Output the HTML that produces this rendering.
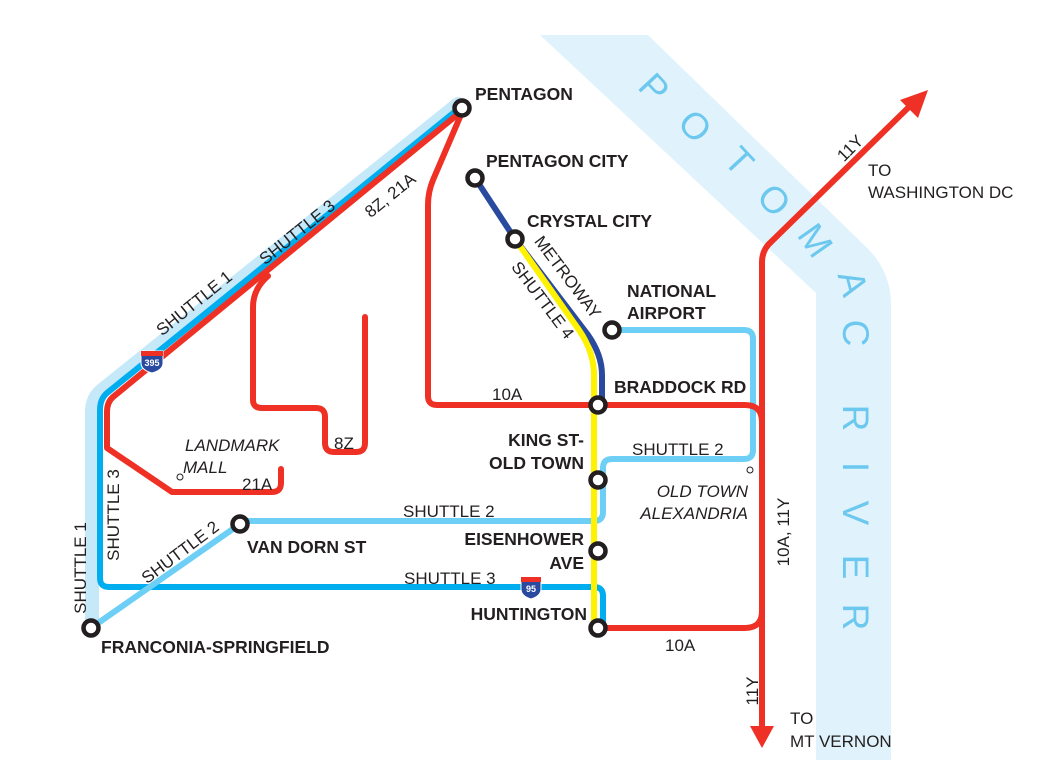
<!DOCTYPE html>
<html><head><meta charset="utf-8"><style>
html,body{margin:0;padding:0;background:#fff}
svg{display:block}
text{font-family:"Liberation Sans",Arial,sans-serif;fill:#231f20}
.b{font-weight:bold;font-size:17.5px}
.r{font-size:17px}
.i{font-style:italic;font-size:17px}
.rv{font-size:37px;fill:#6cc8ee}
</style></head><body>
<svg width="1053" height="784" viewBox="0 0 1053 784" xmlns="http://www.w3.org/2000/svg">
<path d="M540,35 L648,35 L862,243 Q891,268 891,305 L891,760 L816,760 L816,293 Z" fill="#e0f3fc"/>
<g>
<text x="652" y="90" text-anchor="middle" dominant-baseline="middle" transform="rotate(47 652 90)" class="rv">P</text>
<text x="693" y="128" text-anchor="middle" dominant-baseline="middle" transform="rotate(47 693 128)" class="rv">O</text>
<text x="737" y="163" text-anchor="middle" dominant-baseline="middle" transform="rotate(47 737 163)" class="rv">T</text>
<text x="772" y="202" text-anchor="middle" dominant-baseline="middle" transform="rotate(47 772 202)" class="rv">O</text>
<text x="813" y="242" text-anchor="middle" dominant-baseline="middle" transform="rotate(55 813 242)" class="rv">M</text>
<text x="850" y="284" text-anchor="middle" dominant-baseline="middle" transform="rotate(75 850 284)" class="rv">A</text>
<text x="853" y="333" text-anchor="middle" dominant-baseline="middle" transform="rotate(90 853 333)" class="rv">C</text>
<text x="853" y="418" text-anchor="middle" dominant-baseline="middle" transform="rotate(90 853 418)" class="rv">R</text>
<text x="853" y="467" text-anchor="middle" dominant-baseline="middle" transform="rotate(90 853 467)" class="rv">I</text>
<text x="853" y="513" text-anchor="middle" dominant-baseline="middle" transform="rotate(90 853 513)" class="rv">V</text>
<text x="853" y="567" text-anchor="middle" dominant-baseline="middle" transform="rotate(90 853 567)" class="rv">E</text>
<text x="853" y="617" text-anchor="middle" dominant-baseline="middle" transform="rotate(90 853 617)" class="rv">R</text>
</g>
<g fill="none" stroke-linecap="round" stroke-linejoin="round">
<path d="M458,104 L102,390 Q92,398 92,412 L92,628" stroke="#c6e9fa" stroke-width="14"/>
<path d="M462,106 L107,393 Q100,399 100,410 L100,578 Q100,587 109,587 L594,587 Q603,587 603,596 L603,628" stroke="#00aeef" stroke-width="6"/>
<path d="M91,628 L240,524" stroke="#6dcff6" stroke-width="6"/>
<path d="M240,521 L594,521 Q603,521 603,512 L603,468 Q603,459 612,459 L744,459 Q753,459 753,450 L753,339 Q753,330 744,330 L612,330" stroke="#6dcff6" stroke-width="6"/>
<path d="M463,110 L113,397 Q107,402 107,412 L107,448 L172,492 L272,492 Q281,492 281,483 L281,469" stroke="#ee3124" stroke-width="6"/>
<path d="M268,276 Q253,289 253,307 L253,400 Q253,408 262,408 L316,408 Q325,408 325,417 L325,443 Q325,452 334,452 L356,452 Q365,452 365,443 L365,317" stroke="#ee3124" stroke-width="6"/>
<path d="M463,110 L433,180 Q428,192 428,205 L428,396 Q428,405 437,405 L745,405 Q762,405 762,422 L762,611 Q762,628 745,628 L598,628" stroke="#ee3124" stroke-width="6"/>
<path d="M762,735 L762,262 Q762,250 771,242 L912,104" stroke="#ee3124" stroke-width="6"/>
<path d="M475,178 L515,239 L588,335 Q602,355 602,375 L602,405" stroke="#2a4a9f" stroke-width="6"/>
<path d="M515,239 L579,330 Q594,352 594,375 L594,628" stroke="#fff200" stroke-width="6"/>
</g>
<polygon points="928,90 918,118 900,100" fill="#ee3124"/>
<polygon points="762,748 750,726 774,726" fill="#ee3124"/>
<g transform="translate(152,361)">
<path d="M-11,-10 L11,-10 L11,2 Q11,9 0,12 Q-11,9 -11,2 Z" fill="#2a4a9f" stroke="#fff" stroke-width="1"/>
<rect x="-11" y="-10" width="22" height="5" fill="#ee3124"/>
<text x="0" y="5" text-anchor="middle" style="font-size:9px;font-weight:bold;fill:#fff">395</text>
</g>
<g transform="translate(531,587)">
<path d="M-10,-10 L10,-10 L10,2 Q10,9 0,12 Q-10,9 -10,2 Z" fill="#2a4a9f" stroke="#fff" stroke-width="1"/>
<rect x="-10" y="-10" width="20" height="5" fill="#ee3124"/>
<text x="0" y="5" text-anchor="middle" style="font-size:9px;font-weight:bold;fill:#fff">95</text>
</g>
<g fill="#fff" stroke="#231f20" stroke-width="4.5">
<circle cx="462" cy="108" r="7.5"/>
<circle cx="475" cy="178" r="7.5"/>
<circle cx="515" cy="239" r="7.5"/>
<circle cx="612" cy="330" r="7.5"/>
<circle cx="598" cy="405" r="7.5"/>
<circle cx="598" cy="480" r="7.5"/>
<circle cx="598" cy="551" r="7.5"/>
<circle cx="598" cy="628" r="7.5"/>
<circle cx="240" cy="524" r="7.5"/>
<circle cx="91" cy="628" r="7.5"/>
</g>
<circle cx="180" cy="477" r="3" fill="#fff" stroke="#231f20" stroke-width="1"/>
<circle cx="750" cy="470" r="3" fill="#fff" stroke="#231f20" stroke-width="1"/>
<text class="b" x="475" y="100">PENTAGON</text>
<text class="b" x="486" y="167">PENTAGON CITY</text>
<text class="b" x="527" y="227">CRYSTAL CITY</text>
<text class="b" x="627" y="297">NATIONAL</text>
<text class="b" x="627" y="319">AIRPORT</text>
<text class="b" x="614" y="393">BRADDOCK RD</text>
<text class="b" x="584" y="446" text-anchor="end">KING ST-</text>
<text class="b" x="584" y="469" text-anchor="end">OLD TOWN</text>
<text class="b" x="584" y="545" text-anchor="end">EISENHOWER</text>
<text class="b" x="584" y="569" text-anchor="end">AVE</text>
<text class="b" x="587" y="620" text-anchor="end">HUNTINGTON</text>
<text class="b" x="247" y="553">VAN DORN ST</text>
<text class="b" x="101" y="653">FRANCONIA-SPRINGFIELD</text>
<text class="r" x="492" y="400">10A</text>
<text class="r" x="632" y="455">SHUTTLE 2</text>
<text class="r" x="403" y="517">SHUTTLE 2</text>
<text class="r" x="404" y="584">SHUTTLE 3</text>
<text class="r" x="665" y="651">10A</text>
<text class="r" x="334" y="449">8Z</text>
<text class="r" x="242" y="490">21A</text>
<text class="r" x="868" y="176">TO</text>
<text class="r" x="868" y="198">WASHINGTON DC</text>
<text class="r" x="790" y="724">TO</text>
<text class="r" x="790" y="747">MT VERNON</text>
<text class="i" x="185" y="451">LANDMARK</text>
<text class="i" x="183" y="473">MALL</text>
<text class="i" x="748" y="497" text-anchor="end">OLD TOWN</text>
<text class="i" x="748" y="519" text-anchor="end">ALEXANDRIA</text>
<text class="r" x="194" y="309" text-anchor="middle" transform="rotate(-39 194 303)">SHUTTLE 1</text>
<text class="r" x="297" y="238" text-anchor="middle" transform="rotate(-39 297 232)">SHUTTLE 3</text>
<text class="r" x="390" y="201" text-anchor="middle" transform="rotate(-39 390 195)">8Z, 21A</text>
<text class="r" x="568" y="283" text-anchor="middle" transform="rotate(53 568 277)">METROWAY</text>
<text class="r" x="543" y="306" text-anchor="middle" transform="rotate(53 543 300)">SHUTTLE 4</text>
<text class="r" x="850" y="154" text-anchor="middle" transform="rotate(-45 850 148)">11Y</text>
<text class="r" x="783" y="538" text-anchor="middle" transform="rotate(-90 783 532)">10A, 11Y</text>
<text class="r" x="752" y="697" text-anchor="middle" transform="rotate(-90 752 691)">11Y</text>
<text class="r" x="80" y="574" text-anchor="middle" transform="rotate(-90 80 568)">SHUTTLE 1</text>
<text class="r" x="113" y="521" text-anchor="middle" transform="rotate(-90 113 515)">SHUTTLE 3</text>
<text class="r" x="180" y="558" text-anchor="middle" transform="rotate(-37 180 552)">SHUTTLE 2</text>
</svg>
</body></html>
